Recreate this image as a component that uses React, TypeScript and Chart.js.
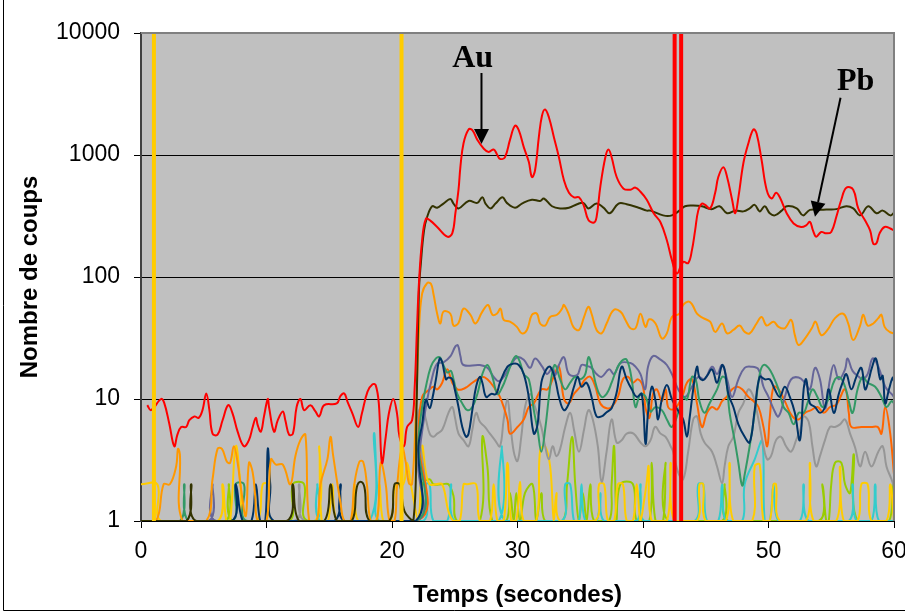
import React, { useEffect, useRef } from 'react';
import { Chart, registerables } from 'chart.js';
Chart.register(...registerables);

const xTicks = [0, 10, 20, 30, 40, 50, 60];
const yTicks = [1, 10, 100, 1000, 10000];
const markerTimes = [1.03, 20.76];
const laserTimes = [42.52, 43.04];
const xTitle = 'Temps (secondes)';
const yTitle = 'Nombre de coups';

// [time (s), counts]
const au: [number, number][] = [
  [0.5,8.9],[0.8,8.1],[1.6,10],[1.85,9.3],[2.25,6.3],[2.65,4.1],[2.9,5.1],[3.2,5.9],[3.6,5.9],[3.85,6.7],
  [4.25,7.2],[4.6,7.0],[4.9,8.1],[5.2,11.1],[5.45,8.1],[5.7,5.2],[6.1,5.1],[6.5,6.7],[6.95,8.9],[7.3,7.6],
  [7.7,5.4],[8.2,4.1],[8.6,4.6],[8.9,5.9],[9.15,7.0],[9.3,6.1],[9.55,5.4],[9.8,7.2],[10.1,10],[10.2,8.6],
  [10.6,5.4],[10.9,6.7],[11.3,7.9],[11.5,6.7],[11.8,5.1],[12.1,5.2],[12.4,8.6],[12.7,10],[13.0,8.1],[13.5,8.9],
  [13.9,7.9],[14.2,7.2],[14.6,8.9],[15.6,9.2],[15.9,10.6],[16.2,11.1],[16.45,9.5],[16.85,7.6],[17.3,5.9],[17.6,7.6],
  [18.05,11.5],[18.45,13.2],[18.7,13],[18.95,9.2],[19.2,3.0],[19.5,4.9],[19.75,7.6],[20.1,10],[20.4,7.6],[20.6,4.9],
  [20.95,4.1],[21.2,5.9],[21.6,6.7],[21.8,12],[22.0,40],[22.15,90],[22.4,200],[22.7,300],[23.05,290],[23.6,257],
  [24.4,214],[24.8,228],[25.05,333],[25.3,520],[25.45,800],[25.7,1250],[26.1,1620],[26.4,1600],[26.8,1330],[27.3,1130],
  [27.7,1060],[28.1,1110],[28.35,1020],[28.6,930],[29.0,960],[29.4,1330],[29.8,1740],[30.1,1600],[30.5,1160],[30.9,880],
  [31.15,660],[31.4,750],[31.7,1400],[31.95,2100],[32.2,2360],[32.5,2040],[32.9,1400],[33.3,960],[33.7,620],[34.1,490],
  [34.5,450],[34.9,450],[35.3,380],[35.65,293],[36.1,280],[36.3,310],[36.6,550],[37.0,960],[37.25,1110],[37.5,960],
  [37.9,660],[38.45,530],[39.0,520],[39.4,540],[39.8,500],[40.3,430],[40.85,333],[41.4,280],[41.9,200],[42.3,138],
  [42.7,107],[43.2,133],[43.6,130],[43.9,166],[44.15,240],[44.4,350],[44.7,400],[44.95,390],[45.35,365],[45.75,490],
  [46.0,660],[46.4,795],[46.7,660],[47.1,430],[47.35,333],[47.6,450],[48.0,860],[48.4,1250],[48.8,1620],[49.05,1500],
  [49.45,910],[49.85,520],[50.25,440],[50.6,490],[50.9,450],[51.45,333],[52.0,275],[52.6,257],[53.0,265],[53.3,283],
  [53.55,240],[53.8,214],[54.2,234],[54.6,228],[55.0,234],[55.4,310],[55.8,430],[56.2,540],[56.75,520],[57.15,365],
  [57.7,290],[58.1,240],[58.35,187],[58.6,189],[58.85,228],[59.25,257],[59.7,250],[60,240]
];

const pb: [number, number][] = [
  [0,1],[3.6,1],[4.0,2],[4.4,1],[11.6,1],[12.1,2],[12.6,1],[14.6,1],[15.1,2],[15.6,1],
  [16.8,1],[17.2,1.9],[17.5,2.1],[17.8,1.9],[18.2,1],[19.8,1],[20.2,2],[20.6,2],[21.0,1.2],[21.7,1],
  [21.95,8],[22.15,78],[22.3,130],[22.55,240],[22.8,310],[23.2,380],[23.6,370],[24.1,400],[24.65,435],[24.9,400],
  [25.3,365],[26.1,420],[26.8,405],[27.2,450],[27.45,400],[27.85,365],[28.25,400],[28.8,450],[29.15,405],[29.8,370],
  [30.35,400],[31.15,430],[31.8,420],[32.1,440],[32.75,380],[33.4,365],[34.1,370],[34.75,395],[35.25,405],[35.65,365],
  [36.3,400],[36.85,370],[37.35,333],[38.05,400],[38.7,395],[39.65,370],[40.3,350],[40.6,350],[41.6,320],[42.3,320],
  [42.9,350],[43.35,380],[44.0,385],[44.7,380],[45.45,360],[46.1,380],[46.7,333],[47.35,350],[48.0,345],[48.5,365],
  [48.9,390],[49.3,345],[49.7,380],[50.1,333],[50.5,320],[51.05,350],[51.45,380],[52.25,365],[52.75,320],[53.3,355],
  [54.1,355],[54.6,358],[55.4,360],[56.2,380],[56.75,365],[57.3,320],[57.95,380],[58.6,333],[59.1,350],[59.7,320],
  [60,335]
];

const lightOrange: [number, number][] = [
  [0,1],[1.2,1],[1.8,2],[2.3,2],[2.8,2.8],[2.95,3.9],[3.1,3.5],[3.3,1],[5.2,1],[5.7,2.2],
  [6.1,3.9],[6.45,3.9],[6.85,3.06],[7.1,3.0],[7.4,4.1],[7.7,3.0],[7.95,1.9],[8.35,1.1],[8.6,3.0],[8.9,2.5],
  [9.1,1.6],[9.3,1],[10.0,1],[10.35,3.2],[10.75,2.9],[11.3,2.9],[11.9,2.0],[12.3,3.4],[12.7,4.6],[13.1,5.1],
  [13.4,1],[14.0,1],[14.3,2],[14.85,3.2],[15.1,4.9],[15.3,3.5],[15.9,1.4],[16.2,1],[16.7,1],[17.0,2],
  [17.4,3.06],[17.7,3.06],[18.0,2],[18.3,1],[18.8,1],[19.1,3.0],[19.5,2],[19.8,1],[20.2,1],[20.4,1.9],
  [20.8,4],[21.1,3],[21.35,2.04],[21.6,2],[21.9,7.6],[22.15,36.8],[22.4,73],[22.8,89],[23.1,88],[23.3,73],
  [23.6,50],[23.85,41.6],[24.1,52],[24.65,50],[24.9,40],[25.3,42],[25.7,55],[26.25,49],[26.65,41.6],[27.2,52],
  [27.65,59],[28.0,49],[28.35,50],[28.65,55],[28.9,44.5],[29.4,43],[29.95,39],[30.35,34.5],[30.75,36.8],[31.15,49],
  [31.55,50],[31.8,41.6],[32.2,40],[32.6,47],[33.15,49],[33.55,55],[33.7,59],[34.1,49],[34.45,39],[34.9,36.8],
  [35.3,47],[35.65,57],[35.9,50],[36.3,36.8],[36.7,34.5],[37.1,41.6],[37.65,53.5],[38.2,52],[38.6,44.5],[39.0,38],
  [39.4,38],[39.8,50],[40.2,39],[40.5,45],[41.0,41.6],[41.5,31.3],[41.9,34.5],[42.3,47],[42.9,50],[43.2,59],
  [43.6,63],[43.9,60],[44.3,50],[44.8,46],[45.35,43],[45.75,35.5],[46.3,41.6],[46.7,34.5],[47.2,36.8],[47.7,40],
  [48.1,35.5],[48.5,34.5],[49.05,41.6],[49.45,47],[49.85,40],[50.4,43],[50.8,39],[51.3,38],[51.8,44.5],[52.1,33.4],
  [52.4,27.7],[52.9,31.3],[53.45,38],[53.75,43],[54.2,33.4],[54.7,36.8],[55.3,46],[55.95,50],[56.35,41.6],[56.75,30.4],
  [57.3,40],[57.55,49],[57.9,40],[58.35,41.6],[58.75,46],[59.0,49],[59.25,39],[59.65,35.5],[60,34.5]
];

const purple: [number, number][] = [
  [0,1],[5.4,1],[5.7,2],[6.0,1],[21.9,1],[22.1,3.0],[22.7,8.6],[23.2,15],[23.6,19.5],[24.1,20],
  [24.66,22.5],[25.05,27],[25.25,27.5],[25.45,22.5],[25.7,19],[27.0,19],[27.6,18],[28.1,15.2],[28.5,14],[28.9,15.2],
  [29.4,18.4],[29.97,22],[30.5,21],[31.0,18],[31.4,21.5],[31.97,18.4],[32.35,16],[32.8,18],[33.0,15.7],[33.3,19],
  [33.7,22],[34.1,16],[34.75,15.7],[35.1,19],[35.5,18.7],[35.9,18],[36.3,16],[36.7,15.2],[37.3,17.5],[37.7,16],
  [38.2,19.7],[39.0,19.7],[39.4,18.4],[39.8,16],[40.17,12],[40.4,18.4],[40.8,22.5],[41.4,21],[41.9,19],[42.4,15.2],
  [42.8,12],[43.35,10.4],[43.9,12.6],[44.4,15.2],[44.9,14.5],[45.5,18.4],[45.9,16],[46.3,19],[46.7,14.5],[47.1,10.4],
  [47.6,14.5],[48.1,18],[48.6,18.4],[49.2,17.5],[49.6,12.6],[50.0,10.4],[50.4,8.3],[50.8,7.2],[51.3,10.4],[51.8,14.5],
  [52.4,15],[52.9,13.6],[53.3,12],[53.7,18],[54.1,14.5],[54.5,8.3],[54.9,14.5],[55.2,19],[55.6,14.5],[56.1,17.5],
  [56.3,21.5],[56.7,17],[57.2,15.2],[57.5,14.5],[57.9,16],[58.3,21.5],[58.75,18.4],[59.3,12.6],[59.8,11],[60,10.4]
];

const navy: [number, number][] = [
  [0,1],[7.2,1],[7.55,2],[8.1,1],[8.8,1],[9.15,2],[9.5,1],[9.9,1],[10.1,3.9],[10.3,2],
  [10.6,1],[15.4,1],[15.9,2],[16.2,1],[21.9,1],[22.1,4.1],[22.4,6.2],[22.7,9.9],[23.0,8.4],[23.2,9.9],
  [23.5,14.5],[23.8,21.5],[24.0,20],[24.3,14.5],[24.5,15],[24.8,14.5],[25.0,12],[25.3,8.6],[25.6,5.9],[25.9,4.9],
  [26.1,5.2],[26.4,8.1],[26.7,12.6],[27.0,15.2],[27.2,13.6],[27.5,10.4],[27.9,11],[28.3,11],[28.6,13.6],[29.2,18.4],
  [29.7,19.5],[30.1,19],[30.5,16],[30.9,10.4],[31.3,5.2],[31.6,6.2],[31.9,13.6],[32.3,17.5],[32.6,18.4],[33.0,14.5],
  [33.3,10.4],[33.7,8.1],[34.1,9.2],[34.5,12.6],[34.8,15.2],[35.1,12.6],[35.5,13.6],[35.9,10.4],[36.3,7.2],[36.7,7.2],
  [37.1,7.8],[37.5,8.4],[37.9,11.3],[38.3,18.4],[38.7,14.5],[39.1,12],[39.5,10.4],[39.9,11],[40.2,4.3],[40.4,7.7],
  [40.7,12.6],[41.0,9.6],[41.2,6.8],[41.5,9.9],[41.9,13],[42.3,10],[42.8,8],[43.2,6.8],[43.5,4.9],[43.7,6.8],
  [44.0,12],[44.3,18.4],[44.5,15],[44.8,14.3],[45.1,15.5],[45.5,17.5],[45.9,13.6],[46.3,19],[46.5,17.5],[46.8,11],
  [47.2,8.6],[47.6,6.2],[48.1,4.9],[48.5,4.4],[48.9,8.1],[49.3,15.2],[49.7,14.5],[50.1,14.5],[50.5,12],[50.9,10.4],
  [51.3,12.6],[51.7,10.4],[52.1,7.7],[52.5,4.6],[52.8,12],[53.0,14.5],[53.3,9.2],[53.7,8.6],[54.1,7.7],[54.5,8.6],
  [54.8,12],[55.2,7.7],[55.6,11],[55.9,13.6],[56.2,16],[56.6,12],[57.0,15.2],[57.4,18],[57.7,12],[58.0,14.5],
  [58.2,17.5],[58.55,21.5],[58.9,14.5],[59.1,15.5],[59.3,9.2],[59.6,12],[59.9,15],[60,14]
];

const green: [number, number][] = [
  [0,1],[3.1,1],[3.45,2],[3.8,1],[7.3,1],[7.55,2],[8.2,2],[8.5,1],[21.9,1],[22.1,4.6],
  [22.4,8.6],[22.7,12.6],[23.1,18.4],[23.5,21.5],[23.8,22],[24.0,20],[24.4,16.5],[24.7,17],[24.9,14.5],[25.2,11],
  [25.6,9.2],[26.0,8.1],[26.4,8.6],[26.8,11],[27.2,16],[27.6,19],[28.0,15.2],[28.4,11],[28.8,12.6],[29.2,16],
  [29.6,20.5],[29.9,22.5],[30.2,20],[30.5,16],[30.9,14.5],[31.3,8.1],[31.6,5.6],[31.9,3.7],[32.2,5.6],[32.5,10.4],
  [32.75,16],[33.0,19],[33.4,14.5],[33.8,12],[34.2,13.6],[34.6,15.2],[35.0,14.5],[35.4,16],[35.65,22],[35.9,19],
  [36.3,12.6],[36.7,10.4],[37.1,11],[37.5,13.6],[37.9,17.5],[38.3,20.5],[38.7,21],[39.1,14.5],[39.4,8.6],[39.8,11],
  [40.2,10.5],[40.6,7.9],[41.0,8.6],[41.5,8.1],[41.9,6.8],[42.3,5.9],[42.8,7.7],[43.2,10.4],[43.5,9.9],[43.9,15.2],
  [44.2,14.5],[44.5,9.6],[44.9,7.7],[45.3,9.2],[45.9,12],[46.3,15.2],[46.6,14.5],[46.9,7.7],[47.3,4.6],[47.6,3.0],
  [47.9,1.95],[48.1,2.4],[48.5,4.1],[48.9,7.7],[49.3,16],[49.6,19],[50.0,18],[50.4,15.2],[50.8,12],[51.2,8.6],
  [51.6,7.7],[52.0,6.2],[52.4,7.7],[52.8,7.7],[53.1,9.2],[53.5,12],[53.9,10.4],[54.3,8.6],[54.7,9.6],[55.3,14.5],
  [55.7,15],[56.1,12.6],[56.4,9.6],[56.7,7.7],[57.1,12],[57.5,15.2],[57.9,13.6],[58.5,12.6],[59.0,10.4],[59.4,8.6],
  [59.8,9.6],[60,9.2]
];

const orangeRed: [number, number][] = [
  [0,1],[21.9,1],[22.1,5],[22.4,10.4],[23.0,12],[23.3,12.6],[23.6,12],[24.0,13.6],[24.4,17.5],[24.8,13.6],
  [25.2,12],[25.6,12],[26.0,12.6],[26.4,13.6],[26.8,14.5],[27.2,15.2],[27.6,14.5],[28.1,12.6],[28.6,10.4],[29.2,6.8],
  [29.4,5.2],[30.0,5.9],[30.5,6.8],[30.9,8.6],[31.3,9.2],[31.9,12],[32.4,12],[32.8,14.5],[33.3,18.4],[33.7,10],
  [34.1,9.2],[34.5,11],[35.0,12.6],[35.4,14.5],[35.8,15.2],[36.2,12.6],[36.6,9.2],[37.1,8.4],[37.5,8.6],[38.0,10.4],
  [38.4,14.5],[38.8,15.2],[39.2,13.6],[39.6,14.5],[40.0,12.6],[40.2,8.5],[40.5,7],[40.8,11],[41.1,12],[41.5,9.6],
  [41.8,12],[42.0,8.6],[42.4,8.2],[42.8,9],[43.2,11],[43.5,13.6],[43.9,14.5],[44.3,9.2],[44.7,5.9],[45.1,7.7],
  [45.5,8.6],[45.9,8.2],[46.3,9.6],[46.7,10.5],[47.1,12],[47.5,12.6],[47.9,12],[48.4,10.4],[48.8,9.6],[49.2,8.6],
  [49.6,5.9],[49.9,4.1],[50.1,7],[50.4,12.6],[50.8,12],[51.3,9.6],[51.9,7.2],[52.4,6.8],[52.9,7.7],[53.4,8.1],
  [53.9,8.6],[54.4,7.7],[54.9,8.6],[55.4,9],[56.1,12],[56.4,7.7],[56.6,5.9],[57.4,5.9],[58.2,5.9],[58.7,5.9],
  [59.0,5.2],[59.3,8.6],[59.7,5.2],[60,2.4]
];

const gray: [number, number][] = [
  [0,1],[12.2,1],[12.6,2],[13.1,1],[21.9,1],[22.1,7.7],[22.4,8.6],[22.7,6.8],[23.0,5.2],[23.3,4.9],
  [23.6,5.2],[24.0,5.6],[24.5,7.7],[24.8,8.6],[25.0,7.2],[25.3,5.2],[25.7,4.6],[26.1,4.1],[26.4,5.6],[26.7,7.7],
  [27.0,6.5],[27.4,5.9],[27.8,5.2],[28.2,4.6],[28.6,4.1],[28.9,6.8],[29.2,10],[29.4,6.8],[29.7,3.7],[30.0,3.1],
  [30.3,4.9],[30.6,8.6],[31.0,11],[31.4,8.6],[31.9,5.9],[32.2,4.1],[32.5,3.2],[32.8,4.1],[33.1,3.4],[33.4,3.9],
  [33.8,5.9],[34.2,7.7],[34.5,5.6],[34.9,3.7],[35.3,5.6],[35.65,8.1],[36.0,6.8],[36.4,4.1],[36.7,2.1],[37.1,3.7],
  [37.5,6.8],[37.9,4.4],[38.3,4.6],[38.7,5.2],[39.25,5.2],[39.8,4.4],[40.2,4.1],[40.6,4.6],[40.97,5.9],[41.4,5.2],
  [41.8,4.9],[42.2,4.1],[42.4,3.7],[42.8,2.5],[43.2,2.2],[43.6,3.7],[44.0,6.8],[44.3,7.2],[44.6,5.2],[44.9,4.4],
  [45.5,3.7],[45.9,2.8],[46.3,2.04],[46.5,2.8],[46.8,4.1],[47.2,4.9],[47.6,7.7],[48.0,9.2],[48.4,12],[48.8,10.4],
  [49.2,6.8],[49.6,4.1],[49.9,3.2],[50.2,3.4],[50.6,4.6],[51.0,4.9],[51.4,4.1],[51.8,3.7],[52.2,4.6],[52.6,5.9],
  [52.8,7.2],[53.2,6.5],[53.5,4.1],[53.8,2.8],[54.1,3.4],[54.5,4.6],[54.9,5.9],[55.3,5.9],[55.7,6.2],[56.1,6.8],
  [56.5,5.2],[56.9,4.0],[57.3,2.8],[57.7,3.7],[58.2,2.8],[58.75,3.7],[59.1,4.1],[59.4,2.8],[59.8,2.2],[60,1.9]
];

const yellow: [number, number][] = [
  [0,2],[1.3,2],[1.6,1],[6.1,1],[6.5,2],[6.8,1],[7.1,1],[7.55,4.1],[7.95,1.9],[8.2,1],
  [9.3,1],[9.7,2],[10.1,2],[10.5,1],[13.9,1],[14.2,4.1],[14.4,1],[14.9,1],[15.25,2],[15.6,1],
  [16.7,1],[17.0,2],[17.3,1],[18.7,1],[19.0,2],[19.3,1],[19.9,1],[20.3,2],[20.9,2],[21.2,3],
  [21.5,2],[22.1,1],[22.4,4.1],[22.7,2.5],[23.0,2.0],[23.5,2],[24.0,2.0],[24.5,1.2],[24.9,1],[25.4,1],
  [25.7,2],[26.0,2],[26.7,2],[27.0,1],[27.8,1],[28.1,2],[28.4,1],[28.9,1],[29.2,3],[29.5,1],
  [29.9,1],[30.2,2.1],[30.5,1],[31.5,1],[31.8,3.8],[32.2,4.1],[32.6,2.8],[32.9,1],[33.1,1.7],[33.4,1],
  [36.2,1],[36.5,2],[36.9,2],[37.2,1],[37.7,1],[38.0,2],[38.4,2],[38.7,1],[39.2,1],[39.5,2],
  [39.8,1],[40.1,1.5],[40.3,2.1],[40.45,2.8],[40.7,1],[41.9,1],[42.2,3.0],[42.5,1],[44.3,1],[44.5,2],
  [44.8,2],[45.0,1],[46.6,1],[46.9,3],[47.2,1],[48.7,1],[48.9,2.8],[49.3,2.9],[49.6,1],[50.1,1],
  [50.4,2],[50.6,2],[50.9,1],[53.0,1],[53.3,3],[53.6,1],[55.4,1],[55.7,2.8],[56.0,1],[57.1,1],
  [57.4,2],[57.9,2],[58.2,1],[59.4,1],[59.7,2],[60,1]
];

const cyan: [number, number][] = [
  [0,1],[13.8,1],[14.05,2],[14.3,1],[18.2,1],[18.56,5.2],[18.8,2],[19.0,1],[22.5,1],[22.7,2],
  [23.0,2],[23.3,1],[24.4,1],[24.7,2],[25.0,1],[28.5,1],[28.75,4.1],[29.0,1],[33.5,1],[33.8,2],
  [34.2,2],[34.5,1],[34.9,1],[35.1,2],[35.4,1],[36.3,1],[36.6,1.7],[36.9,1],[39.5,1],[39.8,2],
  [40.1,1],[44.1,1],[44.4,2],[44.8,2],[45.1,1],[46.0,1],[46.3,2],[46.6,1],[47.9,1],[48.1,2],
  [48.9,3.2],[49.5,4.5],[49.7,1],[50.1,1],[50.4,2],[50.8,1],[52.5,1],[52.8,2],[53.2,1],[56.4,1],
  [56.7,2],[57.0,1],[58.2,1],[58.5,2],[58.8,1],[60,1]
];

const lime: [number, number][] = [
  [0,1],[6.7,1],[7.0,2],[7.3,1],[11.8,1],[12.1,2],[13.0,2],[13.3,1],[21.9,1],[22.4,2],
  [23.0,2.2],[23.3,2],[24.0,2],[24.5,2],[24.9,1.6],[25.2,1],[27.0,1],[27.2,4.9],[27.6,2.8],[28.0,1],
  [29.1,1],[29.4,1.7],[29.7,1],[29.9,1.7],[30.2,1],[30.6,1.7],[31.2,2],[31.5,1],[31.9,1.7],[32.2,1],
  [33.6,1],[33.95,2],[34.35,4.9],[34.6,2],[34.9,1],[35.2,1.7],[35.5,1],[35.8,2],[36.1,1],[37.3,1],
  [37.5,2],[37.7,4.1],[37.9,1],[38.2,2],[39.2,2],[39.5,1],[40.5,1],[40.7,3],[41.0,1],[41.6,1],
  [41.8,3],[42.0,1],[46.3,1],[46.5,2],[46.8,1],[54.0,1],[54.3,2],[54.6,1],[54.8,1],[55.0,2],
  [55.3,3],[55.8,3],[56.1,2],[56.5,1.7],[56.8,3.5],[57.1,1],[59.6,1],[59.9,2],[60,2]
];

// annotations in data coordinates: [time, counts]
const annoLabels = [
  { text: 'Au', at: [24.8, 5265] },
  { text: 'Pb', at: [55.45, 3410] },
];
const annoArrows = [
  { from: [27.13, 4700], to: [27.13, 1231] },
  { from: [55.74, 2950], to: [53.7, 312] },
];

const toPts = (s: [number, number][]) => s.map(([x, y]) => ({ x, y }));

const seriesDefs = [
  { label: 'Au', data: au, color: '#ff0000' },
  { label: 'Pb', data: pb, color: '#333300' },
  { label: 's3', data: lightOrange, color: '#ff9900' },
  { label: 's4', data: navy, color: '#003366' },
  { label: 's5', data: green, color: '#339966' },
  { label: 's6', data: purple, color: '#666699' },
  { label: 's7', data: orangeRed, color: '#ff6600' },
  { label: 's8', data: gray, color: '#969696' },
  { label: 's9', data: yellow, color: '#ffcc00' },
  { label: 's10', data: cyan, color: '#33cccc' },
  { label: 's11', data: lime, color: '#99cc00' },
];

const decorPlugin = {
  id: 'decor',
  beforeDraw(chart: any) {
    const { ctx, chartArea: a, width, height } = chart;
    ctx.save();
    ctx.fillStyle = '#ffffff';
    ctx.fillRect(0, 0, width, height);
    ctx.fillStyle = '#c0c0c0';
    ctx.fillRect(a.left, a.top, a.right - a.left, a.bottom - a.top);
    ctx.restore();
  },
  afterDraw(chart: any) {
    const { ctx, chartArea: a, scales } = chart;
    const xs = scales.x, ys = scales.y;
    ctx.save();
    ctx.strokeStyle = '#808080';
    ctx.lineWidth = 2;
    ctx.beginPath();
    ctx.moveTo(a.left, a.top);
    ctx.lineTo(a.right, a.top);
    ctx.lineTo(a.right, a.bottom);
    ctx.stroke();
    // outer chart frame
    ctx.strokeStyle = '#000';
    ctx.lineWidth = 1;
    ctx.beginPath();
    ctx.moveTo(3.5, 0);
    ctx.lineTo(3.5, 610.5);
    ctx.lineTo(chart.width, 610.5);
    ctx.stroke();
    // annotations
    ctx.fillStyle = '#000';
    ctx.font = 'bold 32px "Liberation Serif", "DejaVu Serif", serif';
    ctx.textBaseline = 'alphabetic';
    ctx.textAlign = 'left';
    for (const l of annoLabels) {
      ctx.fillText(l.text, xs.getPixelForValue(l.at[0]), ys.getPixelForValue(l.at[1]));
    }
    for (const ar of annoArrows) {
      const x1 = xs.getPixelForValue(ar.from[0]), y1 = ys.getPixelForValue(ar.from[1]);
      const x2 = xs.getPixelForValue(ar.to[0]), y2 = ys.getPixelForValue(ar.to[1]);
      const ang = Math.atan2(y2 - y1, x2 - x1);
      const hl = 15, hw = 7.5;
      const bx = x2 - hl * Math.cos(ang), by = y2 - hl * Math.sin(ang);
      ctx.strokeStyle = '#000';
      ctx.lineWidth = 2;
      ctx.beginPath();
      ctx.moveTo(x1, y1);
      ctx.lineTo(bx, by);
      ctx.stroke();
      ctx.beginPath();
      ctx.moveTo(x2, y2);
      ctx.lineTo(bx + hw * Math.sin(ang), by - hw * Math.cos(ang));
      ctx.lineTo(bx - hw * Math.sin(ang), by + hw * Math.cos(ang));
      ctx.closePath();
      ctx.fill();
    }
    ctx.restore();
  },
};

export default function App() {
  const ref = useRef<HTMLCanvasElement>(null);
  useEffect(() => {
    if (!ref.current) return;
    const vlines = [
      ...markerTimes.map((t) => ({ t, color: '#ffcc00' })),
      ...laserTimes.map((t) => ({ t, color: '#ff0000' })),
    ].map((m) => ({
      label: 'v' + m.t,
      data: [{ x: m.t, y: yTicks[0] }, { x: m.t, y: yTicks[yTicks.length - 1] }],
      borderColor: m.color,
      borderWidth: 4,
      pointRadius: 0,
      tension: 0,
    }));
    const datasets = [
      ...vlines,
      ...seriesDefs.map((s) => ({
        label: s.label,
        data: toPts(s.data),
        borderColor: s.color,
        backgroundColor: s.color,
        borderWidth: 2,
        pointRadius: 0,
        tension: 0.4,
      })),
    ];
    const tickFont = { family: '"Liberation Sans", Arial, sans-serif', size: 23 };
    const titleFont = { family: '"Liberation Sans", Arial, sans-serif', size: 24, weight: 'bold' as const };
    const chart = new Chart(ref.current, {
      type: 'line',
      data: { datasets: datasets as any },
      plugins: [decorPlugin],
      options: {
        animation: false,
        responsive: false,
        devicePixelRatio: 1,
        layout: { padding: { top: 33, right: 11, left: 0, bottom: 0 } },
        plugins: { legend: { display: false }, tooltip: { enabled: false } },
        scales: {
          x: {
            type: 'linear',
            min: xTicks[0],
            max: xTicks[xTicks.length - 1],
            afterBuildTicks: (s: any) => { s.ticks = xTicks.map((v) => ({ value: v })); },
            afterFit: (s: any) => { s.height = 93; s.paddingLeft = 0; s.paddingRight = 0; },
            ticks: { font: tickFont, color: '#000', padding: 10, maxRotation: 0, autoSkip: false, callback: (v: any) => String(v) },
            grid: { drawOnChartArea: false, drawTicks: true, tickLength: 7, tickColor: '#000', color: '#000' },
            border: { color: '#000', width: 1 },
            title: { display: true, text: xTitle, font: titleFont, color: '#000', padding: { top: 0, bottom: 4 } },
          },
          y: {
            type: 'logarithmic',
            min: yTicks[0],
            max: yTicks[yTicks.length - 1],
            afterBuildTicks: (s: any) => { s.ticks = yTicks.map((v) => ({ value: v })); },
            afterFit: (s: any) => { s.width = 141; s.paddingTop = 0; s.paddingBottom = 0; },
            ticks: { font: tickFont, color: '#000', padding: 14, autoSkip: false, callback: (v: any) => String(v) },
            grid: {
              drawOnChartArea: true,
              drawTicks: true,
              tickLength: 7,
              tickColor: '#000',
              color: (c: any) => (c.tick && c.tick.value === yTicks[yTicks.length - 1] ? '#808080' : '#000'),
              lineWidth: 1,
            },
            border: { color: '#404040', width: 2 },
            title: { display: true, text: yTitle, font: titleFont, color: '#000', padding: { top: 16, bottom: 0 } },
          },
        },
      } as any,
    });
    return () => chart.destroy();
  }, []);
  return (
    <div style={{ position: 'absolute', left: 0, top: 0, width: 905, height: 614, background: '#fff' }}>
      <canvas ref={ref} width={905} height={614} style={{ display: 'block' }} />
    </div>
  );
}
